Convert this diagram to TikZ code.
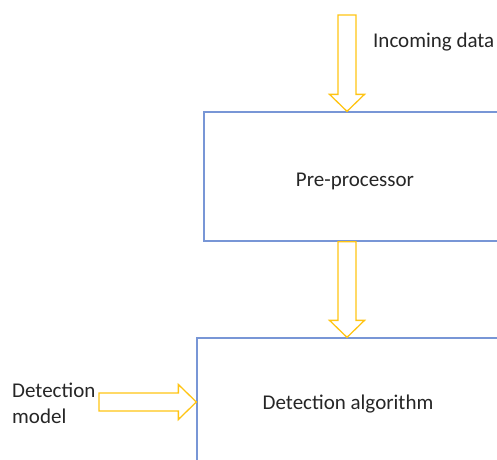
\documentclass[tikz,border=0pt]{standalone}
\usepackage{fontspec}
\setmainfont{Carlito}
\usetikzlibrary{calc}

\definecolor{boxblue}{RGB}{120,150,214}
\definecolor{arrowgold}{RGB}{255,196,20}

% hollow block arrows, head length 17pt, shaft 18pt, head 35pt wide
\newcommand{\fatdown}[2]{%
  \draw[fatarrow] let \p1=(#1), \p2=(#2) in
    (\x1-9pt,\y1) -- (\x1+9pt,\y1) -- (\x1+9pt,\y2+17pt) -- (\x1+17.5pt,\y2+17pt)
    -- (\x1,\y2) -- (\x1-17.5pt,\y2+17pt) -- (\x1-9pt,\y2+17pt) -- cycle;}
\newcommand{\fatright}[2]{%
  \draw[fatarrow] let \p1=(#1), \p2=(#2) in
    (\x1,\y1+9pt) -- (\x1,\y1-9pt) -- (\x2-18pt,\y1-9pt) -- (\x2-18pt,\y1-17.5pt)
    -- (\x2,\y1) -- (\x2-18pt,\y1+17.5pt) -- (\x2-18pt,\y1+9pt) -- cycle;}

\begin{document}
\begin{tikzpicture}[x=1pt, y=-1pt,
    font=\fontsize{21}{26}\selectfont, text=black!85,
    procbox/.style={draw=boxblue, line width=1.3pt, inner sep=0pt},
    fatarrow/.style={draw=arrowgold, line width=1.3pt, line join=miter}]
  \useasboundingbox (0,0) rectangle (497,459);
  \clip (0,0) rectangle (497,459);

  % the two stages
  \node[procbox, minimum width=302pt, minimum height=129pt] (pre) at (355,176.5) {};
  \node[procbox, minimum width=330pt, minimum height=132pt] (det) at (362,404) {};
  \node (preText) at (355,181) {Pre-processor};
  \node (detText) at (348,404) {Detection algorithm};

  % inputs
  \node[anchor=west, inner sep=0pt] (data) at (373,42) {Incoming data};
  \node[anchor=west, align=left, inner sep=0pt] (model) at (12,403) {Detection\\model};

  \coordinate (dataTop) at (347,15);
  \coordinate (modelEnd) at (99,402);

  % flow
  \fatdown{dataTop}{dataTop |- pre.north}
  \fatdown{dataTop |- pre.south}{dataTop |- det.north}
  \fatright{modelEnd}{modelEnd -| det.west}
\end{tikzpicture}
\end{document}
